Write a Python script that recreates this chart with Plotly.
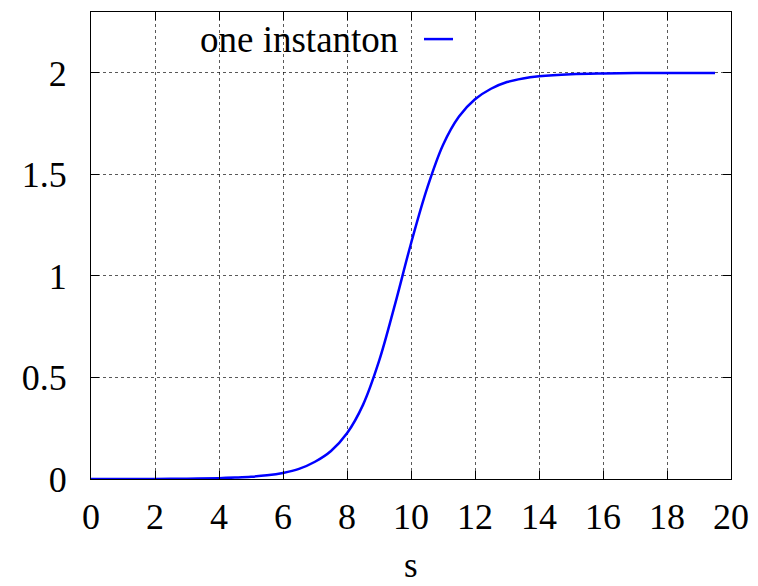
import plotly.graph_objects as go

# one-instanton profile sampled along s
s_vals = [0, 1, 2, 3, 4, 4.5, 5, 5.5, 6, 6.5, 7, 7.5, 8, 8.5, 9, 9.5, 10,
          10.5, 11, 11.5, 12, 12.5, 13, 13.5, 14, 15, 16, 17, 18, 19, 19.5]
y_vals = [0.0, 0.0002, 0.0005, 0.0015, 0.004, 0.007, 0.011, 0.018, 0.03,
          0.05, 0.085, 0.138, 0.225, 0.365, 0.58, 0.86, 1.16, 1.43, 1.645,
          1.785, 1.87, 1.922, 1.955, 1.973, 1.983, 1.993, 1.997, 1.999,
          2.0, 2.0, 2.0]

series_name = "one instanton"
x_title = "s"
x_ticks = list(range(0, 21, 2))
y_ticks = [0, 0.5, 1, 1.5, 2]

FONT = "Liberation Serif"
BLUE = "#0000ff"

fig = go.Figure()
fig.add_trace(go.Scatter(
    x=s_vals, y=y_vals, mode="lines", name=series_name,
    line=dict(color=BLUE, width=2.5, shape="spline", smoothing=1.0),
    showlegend=False,
))

axis_common = dict(
    showline=True, linecolor="black", linewidth=1.2, mirror="ticks",
    ticks="inside", ticklen=8, tickwidth=1, tickcolor="black",
    showgrid=True, gridcolor="rgba(0,0,0,0.65)", gridwidth=1, griddash="dot",
    zeroline=False, automargin=False,
    tickfont=dict(family=FONT, size=36, color="black"),
)

fig.update_xaxes(range=[0, 20], tickvals=x_ticks, ticklabelstandoff=6,
                 **axis_common)
fig.update_yaxes(range=[0, 2.3], tickvals=y_ticks, ticklabelstandoff=16,
                 **axis_common)

# x-axis label placed below the tick labels
fig.add_annotation(xref="paper", yref="paper", x=0.5, y=-0.186,
                   text=x_title, showarrow=False, xanchor="center",
                   yanchor="middle",
                   font=dict(family=FONT, size=35, color="black"))

# key: opaque box hiding the grid, label text and line sample
fig.add_shape(type="rect", xref="paper", yref="paper",
              x0=0.077, x1=0.647, y0=0.9015, y1=0.983,
              fillcolor="white", line=dict(width=0), layer="between")
fig.add_annotation(xref="paper", yref="paper", x=0.4828, y=0.942,
                   text=series_name, showarrow=False, xanchor="right",
                   yanchor="middle",
                   font=dict(family=FONT, size=37, color="black"))
fig.add_shape(type="line", xref="paper", yref="paper",
              x0=0.5203, x1=0.5656, y0=0.942, y1=0.942,
              line=dict(color=BLUE, width=2.5), layer="above")

fig.update_layout(
    width=758, height=586,
    margin=dict(l=91, r=27, t=12, b=107),
    paper_bgcolor="white", plot_bgcolor="white",
    font=dict(family=FONT, color="black"),
)

fig.write_html("out.html")
